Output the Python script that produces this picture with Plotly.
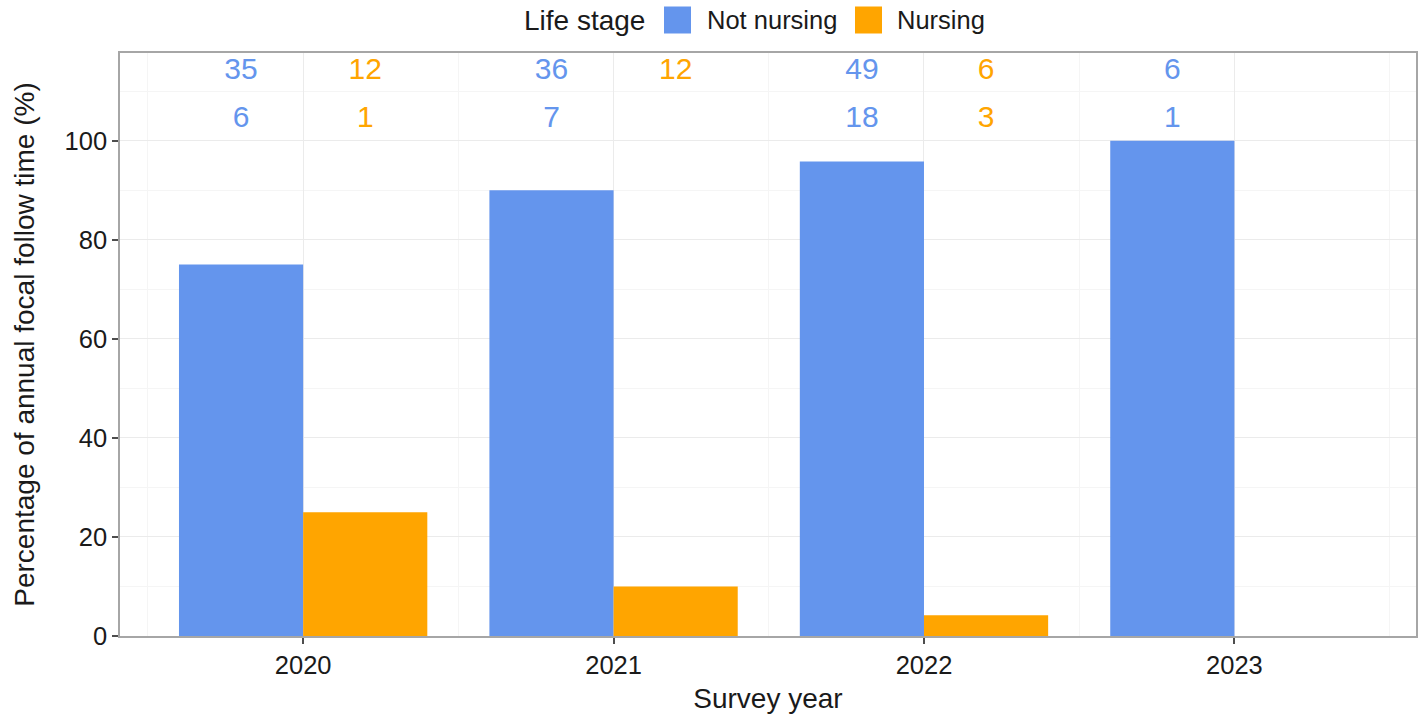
import plotly.graph_objects as go

# Share of annual focal follow time per life stage
years = [2020, 2021, 2022, 2023]
stages = ["Not nursing", "Nursing"]
pct_not_nursing = [75, 90, 95.8, 100]
pct_nursing = [25, 10, 4.2, 0]

# Sample sizes printed above the bars (top row / second row)
n_top_not_nursing = [35, 36, 49, 6]
n_top_nursing = [12, 12, 6, None]
n_bottom_not_nursing = [6, 7, 18, 1]
n_bottom_nursing = [1, None, 3, None]
label_rows_y = [114, 104.2]

colors = {"Not nursing": "#6495ED", "Nursing": "#FFA500"}
FONT = "Liberation Sans, Arial, sans-serif"

fig = go.Figure()
for stage, vals in zip(stages, [pct_not_nursing, pct_nursing]):
    fig.add_trace(go.Bar(
        x=years, y=vals, name=stage,
        marker=dict(color=colors[stage], line=dict(width=0)),
        showlegend=False,
    ))

# Count labels, offset to sit over each dodged bar
offsets = {"Not nursing": -0.2, "Nursing": 0.2}
rows = {
    "Not nursing": [n_top_not_nursing, n_bottom_not_nursing],
    "Nursing": [n_top_nursing, n_bottom_nursing],
}
for stage in stages:
    for row_vals, ry in zip(rows[stage], label_rows_y):
        xs, ys, ts = [], [], []
        for yr, v in zip(years, row_vals):
            if v is None:
                continue
            xs.append(yr + offsets[stage])
            ys.append(ry)
            ts.append(str(v))
        fig.add_trace(go.Scatter(
            x=xs, y=ys, text=ts, mode="text", showlegend=False,
            textfont=dict(family=FONT, size=30, color=colors[stage]),
            textposition="middle center", cliponaxis=False, hoverinfo="skip",
        ))

# Plot-area geometry (pixels) used for the hand-built legend
L, R, T, B = 120, 9, 53, 85
W, H = 1425, 721
pw, ph = W - L - R, H - T - B


def px_x(px):
    return (px - L) / pw


def px_y(py):
    return (H - B - py) / ph


legend_cy = 20
sq = 27
shapes = []
annotations = [dict(
    x=px_x(522), y=px_y(legend_cy), xref="paper", yref="paper",
    text="Life stage", showarrow=False, xanchor="left", yanchor="middle",
    font=dict(family=FONT, size=28, color="#1a1a1a"),
)]
for stage, sx, tx in zip(stages, [664, 855], [705, 895]):
    shapes.append(dict(
        type="rect", xref="paper", yref="paper",
        x0=px_x(sx), x1=px_x(sx + sq),
        y0=px_y(legend_cy + sq / 2), y1=px_y(legend_cy - sq / 2),
        fillcolor=colors[stage], line=dict(width=0),
    ))
    annotations.append(dict(
        x=px_x(tx), y=px_y(legend_cy), xref="paper", yref="paper",
        text=stage, showarrow=False, xanchor="left", yanchor="middle",
        font=dict(family=FONT, size=25.5, color="#1a1a1a"),
    ))

axis_common = dict(
    showline=True, linecolor="#a6a6a6", linewidth=1.5, mirror=True,
    ticks="outside", ticklen=6, tickwidth=1.5, tickcolor="#4d4d4d",
    showgrid=True, gridcolor="#ebebeb", gridwidth=1,
    zeroline=False,
    tickfont=dict(family=FONT, size=25.5, color="#1a1a1a"),
)

fig.update_layout(
    width=W, height=H,
    margin=dict(l=L, r=R, t=T, b=B),
    paper_bgcolor="white", plot_bgcolor="white",
    barmode="group", bargap=0.2, bargroupgap=0,
    shapes=shapes, annotations=annotations,
    xaxis=dict(
        **axis_common,
        range=[2019.41, 2023.585], tickmode="array", tickvals=years,
        ticktext=[str(y) for y in years],
        minor=dict(dtick=0.5, tick0=2019.5, showgrid=True,
                   gridcolor="#f5f5f5", gridwidth=0.8, ticks=""),
        title=dict(text="Survey year", standoff=10,
                   font=dict(family=FONT, size=28, color="#1a1a1a")),
        automargin=False,
    ),
    yaxis=dict(
        **axis_common,
        range=[0, 117.7], tickmode="array", tickvals=[0, 20, 40, 60, 80, 100],
        minor=dict(tickvals=[10, 30, 50, 70, 90, 110], showgrid=True,
                   gridcolor="#f5f5f5", gridwidth=0.8, ticks=""),
        title=dict(text="Percentage of annual focal follow time (%)", standoff=22,
                   font=dict(family=FONT, size=28, color="#1a1a1a")),
        automargin=False,
    ),
)

fig.write_html("out.html")
